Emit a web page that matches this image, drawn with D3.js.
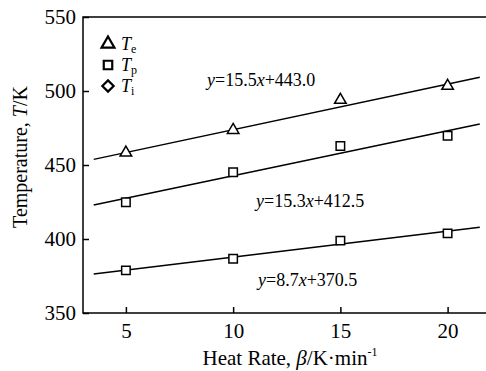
<!DOCTYPE html>
<html>
<head>
<meta charset="utf-8">
<script src="https://cdn.jsdelivr.net/npm/d3@7"></script>
<style>
  body { margin: 0; background: #fff; }
  svg text { font-family: "Liberation Serif", "Times New Roman", serif; fill: #000; }
</style>
</head>
<body>
<svg width="486" height="371"></svg>
<script>
// heating rates (K/min)
const rates = [5, 10, 15, 20];
// peak temperatures (K)
const tE = [458.3, 473.6, 493.9, 503.4];
const tP = [424.8, 445.1, 462.8, 469.8];
const tI = [378.8, 386.7, 398.9, 403.8];
// fitted lines, end points in data units
const fitX = [3.5, 21.5];
const fitE = [453.8, 509.3];
const fitP = [423.0, 477.7];
const fitI = [376.4, 407.9];
const xTicks = [5, 10, 15, 20];
const yTicks = [350, 400, 450, 500, 550];
const equations = ["15.5", "443.0", "15.3", "412.5", "8.7", "370.5"];

const svg = d3.select("svg");
const x = d3.scaleLinear().domain([3, 22]).range([83, 490.5]);
const y = d3.scaleLinear().domain([350, 550]).range([313, 17]);

// frame (right side falls outside the picture)
svg.append("rect")
  .attr("x", x(3)).attr("y", y(550))
  .attr("width", x(22) - x(3)).attr("height", y(350) - y(550))
  .attr("fill", "none").attr("stroke", "#000").attr("stroke-width", 1.5);

const xAxis = svg.append("g")
  .attr("transform", `translate(0,${y(350)})`)
  .call(d3.axisBottom(x).tickValues(xTicks).tickSizeInner(-6).tickSizeOuter(0).tickPadding(10));
const yAxis = svg.append("g")
  .attr("transform", `translate(${x(3)},0)`)
  .call(d3.axisLeft(y).tickValues(yTicks).tickSizeInner(-6).tickSizeOuter(0).tickPadding(7));
[xAxis, yAxis].forEach(a => {
  a.select(".domain").remove();
  a.selectAll("line").attr("stroke", "#000").attr("stroke-width", 1.5);
  a.selectAll("text").style("font-size", "21px").attr("fill", "#000");
});
xAxis.selectAll("text").attr("dy", "0.71em");

// axis titles
const xt = svg.append("text")
  .attr("x", 290).attr("y", 365).attr("text-anchor", "middle")
  .style("font-size", "21px");
xt.append("tspan").text("Heat Rate, ");
xt.append("tspan").style("font-style", "italic").text("β");
xt.append("tspan").text("/K·min");
xt.append("tspan").attr("dy", -9).style("font-size", "12px").text("-1");

const yt = svg.append("text")
  .attr("transform", "translate(27,157) rotate(-90)")
  .attr("text-anchor", "middle")
  .style("font-size", "20px");
yt.append("tspan").text("Temperature, ");
yt.append("tspan").style("font-style", "italic").text("T");
yt.append("tspan").text("/K");

// fitted lines
const line = d3.line().x(d => x(d[0])).y(d => y(d[1]));
[fitE, fitP, fitI].forEach(f => {
  svg.append("path")
    .datum(fitX.map((v, i) => [v, f[i]]))
    .attr("d", line)
    .attr("fill", "none").attr("stroke", "#000").attr("stroke-width", 1.5);
});

// markers
const tri = d3.symbol().type(d3.symbolTriangle).size(58);
const sq = d3.symbol().type(d3.symbolSquare).size(72);
const series = [
  { vals: tE, shape: tri },
  { vals: tP, shape: sq },
  { vals: tI, shape: sq }
];
series.forEach(s => {
  svg.append("g").selectAll("path")
    .data(rates.map((r, i) => [r, s.vals[i]]))
    .join("path")
    .attr("d", s.shape)
    .attr("transform", d => `translate(${x(d[0])},${y(d[1])})`)
    .attr("fill", "#fff").attr("stroke", "#000").attr("stroke-width", 1.5);
});

// legend
const legend = [
  { sym: d3.symbol().type(d3.symbolTriangle).size(72), sub: "e", rot: 0, cy: 44 },
  { sym: d3.symbol().type(d3.symbolSquare).size(72), sub: "p", rot: 0, cy: 65 },
  { sym: d3.symbol().type(d3.symbolSquare).size(64), sub: "i", rot: 45, cy: 86 }
];
legend.forEach(l => {
  svg.append("path")
    .attr("d", l.sym)
    .attr("transform", `translate(108,${l.cy}) rotate(${l.rot})`)
    .attr("fill", "none").attr("stroke", "#000").attr("stroke-width", 2.2);
  const t = svg.append("text").attr("x", 121).attr("y", l.cy + 6).style("font-size", "18px");
  t.append("tspan").style("font-style", "italic").text("T");
  t.append("tspan").attr("dy", 3).style("font-size", "12px").text(l.sub);
});

// equations
const eqPos = [[207, 86], [256, 207], [258, 286]];
eqPos.forEach((p, i) => {
  const t = svg.append("text").attr("x", p[0]).attr("y", p[1]).style("font-size", "18px");
  t.append("tspan").style("font-style", "italic").text("y");
  t.append("tspan").text("=" + equations[i * 2]);
  t.append("tspan").style("font-style", "italic").text("x");
  t.append("tspan").text("+" + equations[i * 2 + 1]);
});
</script>
</body>
</html>
